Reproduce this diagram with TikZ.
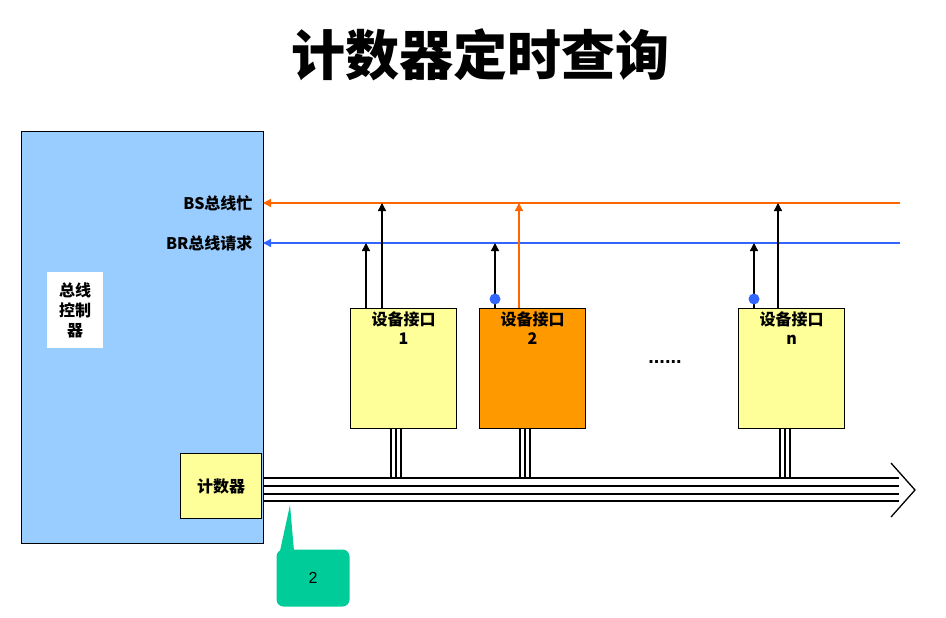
\documentclass[tikz,border=0pt]{standalone}
\usepackage{fontspec}
\setmainfont{Liberation Sans}
\newfontfamily\cjk{Noto Sans CJK SC}
\usetikzlibrary{arrows.meta}
\definecolor{ctrlblue}{HTML}{99CCFF}
\definecolor{devyellow}{HTML}{FFFF99}
\definecolor{devorange}{HTML}{FF9900}
\definecolor{bsorange}{HTML}{FF6600}
\definecolor{brblue}{HTML}{3366FF}
\definecolor{tagteal}{HTML}{00CC99}
\tikzset{
  box/.style={draw, line width=1.2pt, anchor=north west, inner sep=0pt},
  dev/.style={box, fill=devyellow, minimum width=106, minimum height=120,
    align=center, font=\cjk\bfseries\fontsize{16}{19}\selectfont, text depth=80},
  sig/.style={line width=1.3pt, -{Triangle[length=8pt,width=8pt]}},
  lbl/.style={anchor=east, font=\cjk\bfseries\fontsize{16}{19}\selectfont},
  dot/.style={circle, fill=brblue, inner sep=0pt, minimum size=11}
}
\begin{document}
\begin{tikzpicture}[x=1pt,y=-1pt]
  \useasboundingbox (0,0) rectangle (946,618);
  \node[font=\cjk\bfseries\fontsize{54}{60}\selectfont] (title) at (480,55) {计数器定时查询};

  % controller
  \node[box, fill=ctrlblue, minimum width=242, minimum height=412] (ctrl) at (21,131) {};
  \node[fill=white, minimum width=56, minimum height=76, align=center,
    font=\cjk\bfseries\fontsize{16}{20}\selectfont] (ctrltxt) at (75,310) {总线\\控制\\器};
  \node[box, fill=devyellow, minimum width=81, minimum height=65,
    font=\cjk\bfseries\fontsize{16}{19}\selectfont] (cnt) at (180,453) {};
  \node[font=\cjk\bfseries\fontsize{16}{19}\selectfont] at (cnt.center) {计数器};

  % signal lines
  \coordinate (bsend) at (900,203);
  \coordinate (bs) at (263,203);
  \coordinate (brend) at (900,243);
  \coordinate (br) at (263,243);
  \draw[sig, bsorange] (bsend) -- (bs);
  \draw[sig, brblue] (brend) -- (br);
  \node[lbl] (bslbl) at (256,203) {BS{\cjk 总线忙}};
  \node[lbl] (brlbl) at (256,243) {BR{\cjk 总线请求}};

  % devices
  \node[dev] (d1) at (350,308) {设备接口\\1};
  \node[dev, fill=devorange] (d2) at (479,308) {设备接口\\2};
  \node[dev] (dn) at (738,308) {设备接口\\n};
  \node[font=\bfseries\fontsize{20}{20}\selectfont] (dots) at (665,362) {......};

  \draw[sig] (d1.north west) ++(16,0) -- ++(0,-65);
  \draw[sig] (d1.north west) ++(32,0) -- ++(0,-105);
  \draw[sig] (d2.north west) ++(16,0) -- ++(0,-65);
  \draw[sig, bsorange] (d2.north west) ++(40,0) -- ++(0,-105);
  \draw[sig] (dn.north west) ++(16,0) -- ++(0,-65);
  \draw[sig] (dn.north west) ++(40,0) -- ++(0,-105);
  \node[dot] (p2) at (495,299) {};
  \node[dot] (pn) at (754,299) {};

  % data bus
  \foreach \y in {478,486,494,501}
    \draw[line width=1.3pt] (263,\y) -- (899,\y);
  \draw[line width=1.3pt] (891,463) -- (915,490) -- (891,517);
  \foreach \n/\x in {d1/391,d2/520,dn/780}
    \foreach \dx in {0,5,10}
      \draw[line width=1.2pt] (\x+\dx,428) -- (\x+\dx,478);

  % callout
  \node[fill=tagteal, rounded corners=7, minimum width=73, minimum height=57,
    font=\fontsize{16}{19}\selectfont] (tag) at (313,578) {2};
  \fill[tagteal] (280,551) -- (290,505) -- (294,551) -- cycle;
\end{tikzpicture}
\end{document}
